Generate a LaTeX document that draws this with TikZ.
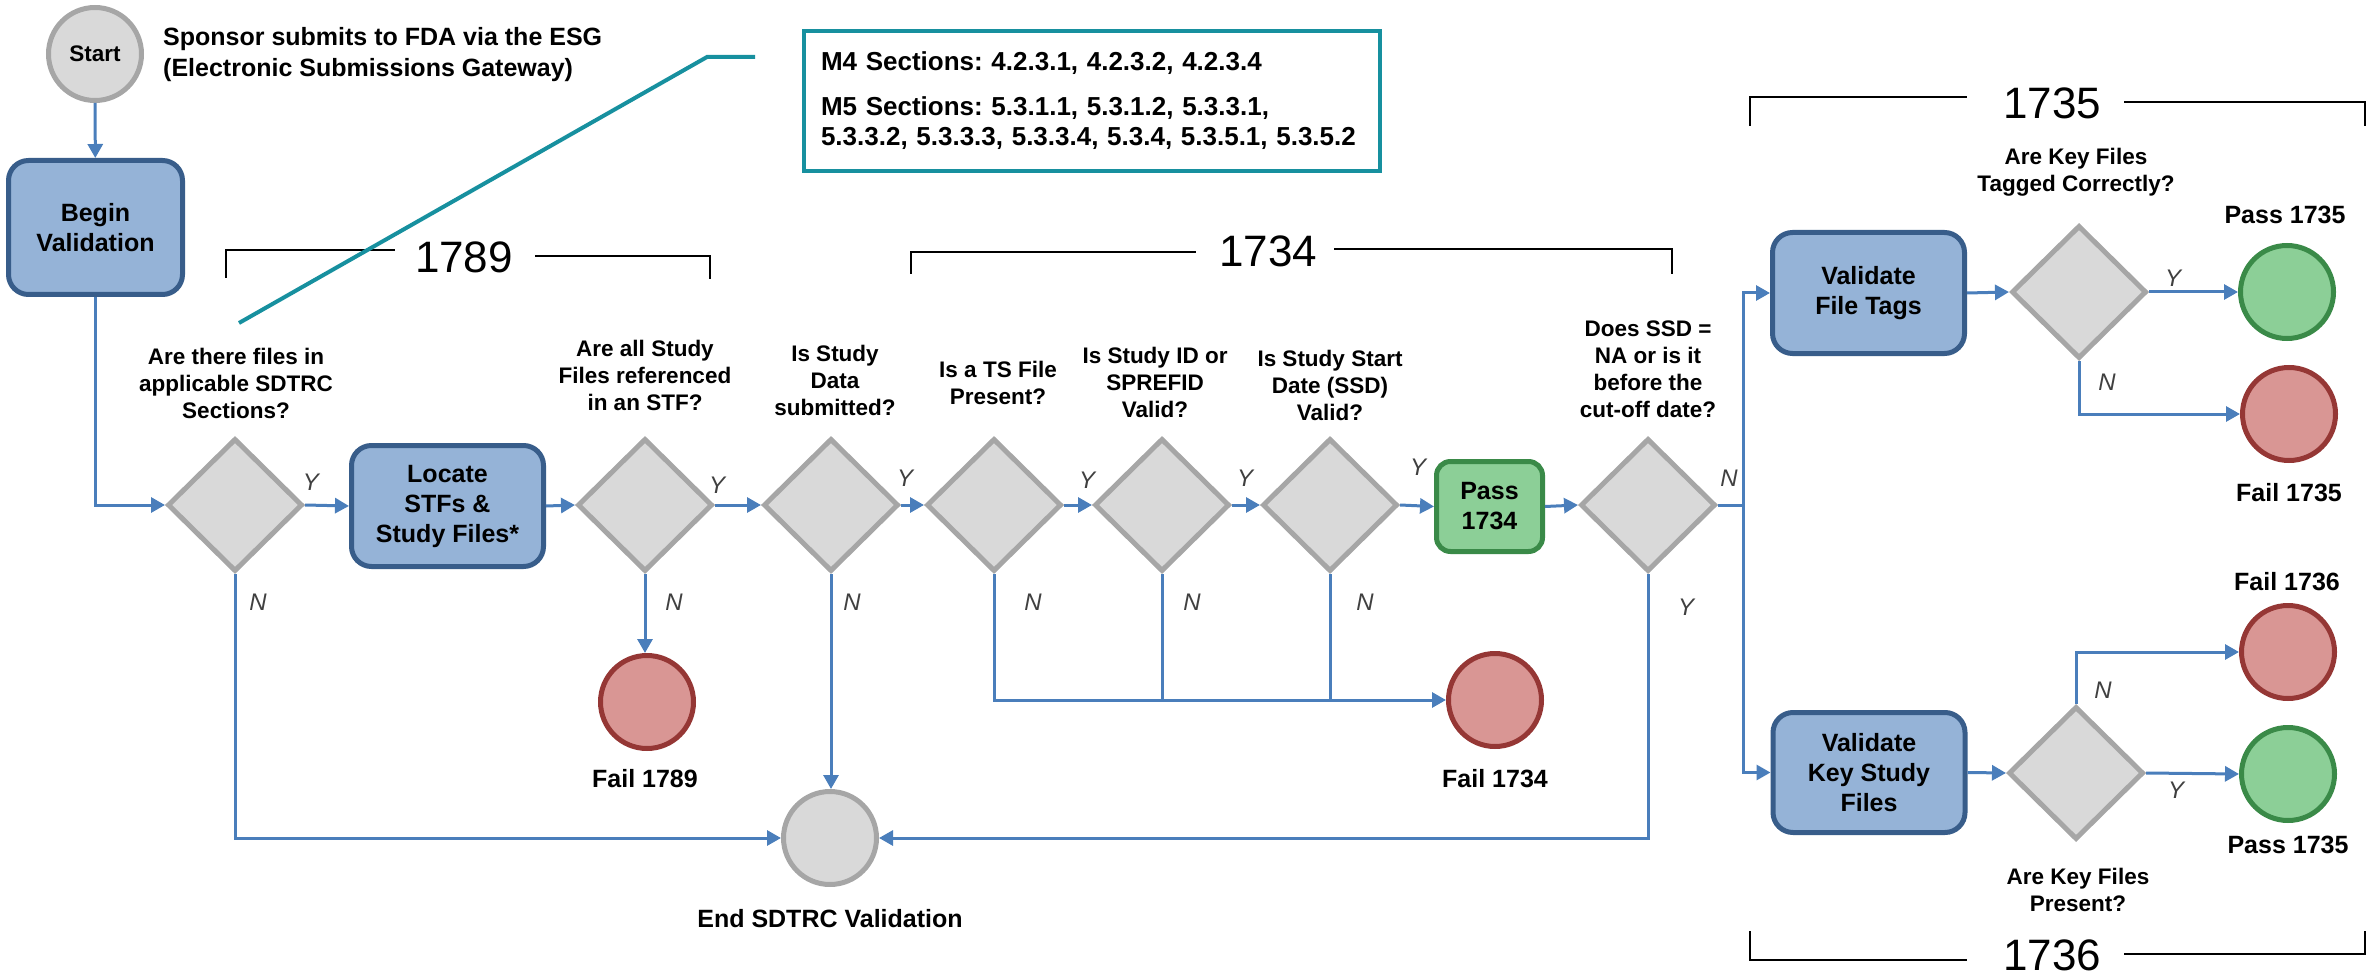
\documentclass[tikz,border=0pt]{standalone}
\usepackage{fontspec}
\setmainfont{Liberation Sans}
\usetikzlibrary{shapes.geometric,arrows.meta}
\frenchspacing

\definecolor{flow}{HTML}{4A7EBB}
\definecolor{procfill}{HTML}{95B3D7}
\definecolor{procdraw}{HTML}{385D8A}
\definecolor{decfill}{HTML}{D9D9D9}
\definecolor{decdraw}{HTML}{A6A6A6}
\definecolor{okfill}{HTML}{8CCF97}
\definecolor{okdraw}{HTML}{3A8A48}
\definecolor{badfill}{HTML}{D99694}
\definecolor{baddraw}{HTML}{953735}
\definecolor{notecol}{HTML}{17909F}
\definecolor{yngrey}{HTML}{404040}

\begin{document}
\begin{tikzpicture}[x=1pt,y=-1pt,
  procbox/.style={draw=procdraw, fill=procfill, line width=5pt, rounded corners=20pt,
    align=center, inner sep=0pt, font=\fontsize{25}{30}\selectfont\bfseries},
  passbox/.style={procbox, draw=okdraw, fill=okfill, rounded corners=14pt},
  decision/.style={diamond, draw=decdraw, fill=decfill, line width=5pt,
    minimum width=135pt, minimum height=133pt, inner sep=0pt},
  endpt/.style={circle, line width=5pt, minimum size=93pt, inner sep=0pt},
  greyend/.style={endpt, draw=decdraw, fill=decfill},
  okend/.style={endpt, draw=okdraw, fill=okfill},
  badend/.style={endpt, draw=baddraw, fill=badfill},
  question/.style={align=center, inner sep=0pt, font=\fontsize{22.5}{27}\selectfont\bfseries},
  caption/.style={inner sep=0pt, font=\fontsize{25}{31}\selectfont\bfseries},
  yn/.style={inner sep=0pt, text=yngrey, font=\fontsize{24}{28}\selectfont\itshape},
  codenum/.style={inner sep=0pt, font=\fontsize{44}{50}\selectfont},
  flowseg/.style={draw=flow, line width=3pt},
  flowarrow/.style={flowseg, -{Triangle[length=14pt,width=15pt]}},
  bracket/.style={draw=black, line width=2pt},
  callout/.style={draw=notecol, line width=4pt}
]
\useasboundingbox (0,0) rectangle (2372,976);

% ---- start and entry ----
\node[greyend, font=\fontsize{22.5}{27}\selectfont\bfseries] (start) at (95,54) {Start};
\node[caption, anchor=west, align=left] (sponsor) at (163,55)
  {Sponsor submits to FDA via the ESG\\(Electronic Submissions Gateway)};
\node[procbox, minimum width=174pt, minimum height=134pt] (begin) at (95.5,227.5) {Begin\\Validation};

% ---- main decision chain ----
\node[decision] (d1) at (235,505) {};
\node[procbox, minimum width=192pt, minimum height=121pt] (locate) at (447.5,506) {Locate\\STFs \&\\Study Files*};
\node[decision] (d2) at (645,505) {};
\node[decision] (d3) at (831,505) {};
\node[decision] (d4) at (994,505) {};
\node[decision] (d5) at (1162,505) {};
\node[decision] (d6) at (1330,505) {};
\node[passbox, minimum width=106pt, minimum height=90pt] (pass1734) at (1489.5,506.5) {Pass\\1734};
\node[decision] (d7) at (1648,505) {};

\node[question] (q1) at (236,383) {Are there files in\\applicable SDTRC\\Sections?};
\node[question] (q2) at (645,375) {Are all Study\\Files referenced\\in an STF?};
\node[question] (q3) at (835,380) {Is Study\\Data\\submitted?};
\node[question] (q4) at (998,383) {Is a TS File\\Present?};
\node[question] (q5) at (1155,382) {Is Study ID or\\SPREFID\\Valid?};
\node[question] (q6) at (1330,385) {Is Study Start\\Date (SSD)\\Valid?};
\node[question] (q7) at (1648,369) {Does SSD =\\NA or is it\\before the\\cut-off date?};

% ---- terminal circles ----
\node[badend] (fail1789) at (647,702) {};
\node[caption] (lfail1789) at (645,779) {Fail 1789};
\node[badend] (fail1734) at (1495,700) {};
\node[caption] (lfail1734) at (1495,779) {Fail 1734};
\node[greyend] (end) at (830,838) {};
\node[caption] (lend) at (830,919) {End SDTRC Validation};

% ---- 1735 / 1736 branch ----
\node[procbox, minimum width=192pt, minimum height=121pt] (vft) at (1868.5,293) {Validate\\File Tags};
\node[decision] (d8) at (2079,292) {};
\node[okend] (pass1735a) at (2287,292) {};
\node[badend] (fail1735) at (2289,414) {};
\node[question] (q8) at (2076,172) {Are Key Files\\Tagged Correctly?};
\node[caption] (lpass1735a) at (2285,215) {Pass 1735};
\node[caption] (lfail1735) at (2289,493) {Fail 1735};

\node[procbox, minimum width=192pt, minimum height=120pt] (vksf) at (1869,772.5) {Validate\\Key Study\\Files};
\node[decision] (d9) at (2076,773) {};
\node[badend] (fail1736) at (2288,652) {};
\node[okend] (pass1735b) at (2288,774) {};
\node[caption] (lfail1736) at (2287,582) {Fail 1736};
\node[caption] (lpass1735b) at (2288,845) {Pass 1735};
\node[question] (q9) at (2078,890) {Are Key Files\\Present?};

% ---- connectors ----
\draw[flowarrow] (start) -- (begin);
\draw[flowarrow] (begin.south) |- (d1.west);
\draw[flowarrow] (d1.east) -- (locate.west);
\draw[flowarrow] (locate.east) -- (d2.west);
\draw[flowarrow] (d2.east) -- (d3.west);
\draw[flowarrow] (d2.south) -- (d2.south |- fail1789.north);
\draw[flowarrow] (d3.east) -- (d4.west);
\draw[flowarrow] (d4.east) -- (d5.west);
\draw[flowarrow] (d5.east) -- (d6.west);
\draw[flowarrow] (d6.east) -- (pass1734.west);
\draw[flowarrow] (pass1734.east) -- (d7.west);
\draw[flowarrow] (d1.south) |- (end.west);
\draw[flowarrow] (d3.south) -- (d3.south |- end.north);
\draw[flowarrow] (d4.south) |- (fail1734.west);
\draw[flowseg] (d5.south) -- (d5.south |- fail1734.west);
\draw[flowseg] (d6.south) -- (d6.south |- fail1734.west);
\draw[flowarrow] (d7.south) |- (end.east);
\coordinate (split) at (1743,505);
\draw[flowseg] (d7.east) -- (split);
\draw[flowarrow] (split) |- (vft.west);
\draw[flowarrow] (split) |- (vksf.west);
\draw[flowarrow] (vft.east) -- (d8.west);
\draw[flowarrow] (d8.east) -- (pass1735a.west);
\draw[flowarrow] (d8.south) |- (fail1735.west);
\draw[flowarrow] (vksf.east) -- (d9.west);
\draw[flowarrow] (d9.north) |- (fail1736.west);
\draw[flowarrow] (d9.east) -- (pass1735b.west);

% ---- branch labels ----
\node[yn] at (311,482) {Y};  \node[yn] at (258,602) {N};
\node[yn] at (717,485) {Y};  \node[yn] at (674,602) {N};
\node[yn] at (905,478) {Y};  \node[yn] at (852,602) {N};
\node[yn] at (1087,480) {Y}; \node[yn] at (1033,602) {N};
\node[yn] at (1245,478) {Y}; \node[yn] at (1192,602) {N};
\node[yn] at (1418,467) {Y}; \node[yn] at (1365,602) {N};
\node[yn] at (1729,478) {N}; \node[yn] at (1686,607) {Y};
\node[yn] at (2173,278) {Y}; \node[yn] at (2107,382) {N};
\node[yn] at (2103,690) {N}; \node[yn] at (2176,790) {Y};

% ---- rule number brackets ----
\node[codenum] (n1789) at (464,257) {1789};
\draw[bracket] (226,278) -- (226,250) -- (395,250);
\draw[bracket] (535,256) -- (710,256) -- (710,279);
\node[codenum] (n1734) at (1268,251) {1734};
\draw[bracket] (911,274) -- (911,252) -- (1196,252);
\draw[bracket] (1334,249) -- (1672,249) -- (1672,274);
\node[codenum] (n1735) at (2052,103) {1735};
\draw[bracket] (1750,126) -- (1750,97) -- (1967,97);
\draw[bracket] (2124,102) -- (2365,102) -- (2365,126);
\node[codenum] (n1736) at (2052,955) {1736};
\draw[bracket] (1750,931) -- (1750,960) -- (1967,960);
\draw[bracket] (2124,954) -- (2365,954) -- (2365,931);

% ---- section note with callout ----
\node[draw=notecol, line width=4pt, fill=white, align=left, text width=542pt,
  inner xsep=17pt, minimum height=140pt, font=\fontsize{26}{30}\selectfont\bfseries]
  (note) at (1092,101)
  {M4 Sections: 4.2.3.1, 4.2.3.2, 4.2.3.4\\[15pt]
   M5 Sections: 5.3.1.1, 5.3.1.2, 5.3.3.1,\\
   5.3.3.2, 5.3.3.3, 5.3.3.4, 5.3.4, 5.3.5.1, 5.3.5.2};
\coordinate (notetip) at (239,323);
\coordinate (noteknee) at (707,57);
\draw[callout] (notetip) -- (noteknee) -- ([xshift=-47pt]note.west |- noteknee);
\end{tikzpicture}
\end{document}
